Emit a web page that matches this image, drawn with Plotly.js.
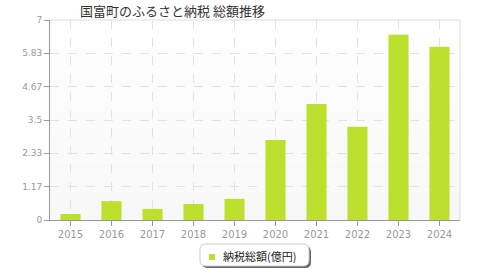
<!DOCTYPE html>
<html>
<head>
<meta charset="utf-8">
<script src="https://cdn.plot.ly/plotly-3.0.1.min.js"></script>
<style>html,body{margin:0;padding:0;background:#fff;}#chart{width:480px;height:280px;}</style>
</head>
<body>
<div id="chart"></div>
<script>
var years = ["2015","2016","2017","2018","2019","2020","2021","2022","2023","2024"];
var totals = [0.21, 0.66, 0.39, 0.56, 0.74, 2.80, 4.06, 3.26, 6.48, 6.06];
var yTickVals = [0, 7/6, 14/6, 3.5, 28/6, 35/6, 7];
var yTickText = ["0", "1.17", "2.33", "3.5", "4.67", "5.83", "7"];
var seriesName = "納税総額(億円)";
var titleText = "国富町のふるさと納税 総額推移";

var font = "'DejaVu Sans', 'Noto Sans CJK JP', sans-serif";
var barColor = "#bde02e";
var trace = {
  type: "bar", x: years, y: totals, name: seriesName,
  marker: {color: barColor, line: {width: 0}},
  width: 0.49, showlegend: false, hoverinfo: "skip"
};
function px2x(p){ return (p - 50) / 410; }
function px2y(p){ return (220 - p) / 200; }
function roundRect(x0, y0, x1, y1, r){
  var X = function(v){return px2x(v).toFixed(5);};
  var Y = function(v){return px2y(v).toFixed(5);};
  return "M" + X(x0+r) + "," + Y(y0) + " L" + X(x1-r) + "," + Y(y0) +
    " Q" + X(x1) + "," + Y(y0) + " " + X(x1) + "," + Y(y0+r) +
    " L" + X(x1) + "," + Y(y1-r) +
    " Q" + X(x1) + "," + Y(y1) + " " + X(x1-r) + "," + Y(y1) +
    " L" + X(x0+r) + "," + Y(y1) +
    " Q" + X(x0) + "," + Y(y1) + " " + X(x0) + "," + Y(y1-r) +
    " L" + X(x0) + "," + Y(y0+r) +
    " Q" + X(x0) + "," + Y(y0) + " " + X(x0+r) + "," + Y(y0) + " Z";
}
var shapes = [];
var bandColors = ["#fefefe","#fdfdfd","#fcfcfc","#fbfbfb","#fafafa","#f9f9f9","#f8f8f8"];
for (var i = 0; i < bandColors.length; i++) {
  shapes.push({type: "rect", xref: "paper", yref: "paper", x0: 0, x1: 1,
    y0: 1 - (i + 1) / bandColors.length, y1: 1 - i / bandColors.length,
    layer: "below", line: {width: 0}, fillcolor: bandColors[i]});
}
shapes.push(
  {type: "line", xref: "paper", yref: "paper", x0: 0, x1: 1, y0: 1, y1: 1,
   line: {color: "#dddddd", width: 1}, layer: "below"},
  {type: "line", xref: "paper", yref: "paper", x0: 1, x1: 1, y0: 0, y1: 1,
   line: {color: "#dddddd", width: 1}, layer: "below"},
  {type: "path", xref: "paper", yref: "paper", layer: "above",
   path: roundRect(202, 246, 311, 268, 6), fillcolor: "#666", line: {width: 0}},
  {type: "path", xref: "paper", yref: "paper", layer: "above",
   path: roundRect(200, 244, 309, 266, 6), fillcolor: "#ffffff", line: {color: "#cccccc", width: 1}},
  {type: "rect", xref: "paper", yref: "paper", layer: "above",
   x0: px2x(209), x1: px2x(215), y0: px2y(254), y1: px2y(260),
   fillcolor: barColor, line: {width: 0}}
);
var layout = {
  width: 480, height: 280,
  margin: {l: 50, r: 20, t: 20, b: 60, autoexpand: false},
  paper_bgcolor: "#ffffff",
  plot_bgcolor: "rgba(0,0,0,0)",
  title: {text: titleText, x: 80/480, xanchor: "left", y: 1 - 11/280, yanchor: "middle",
          font: {family: "'Noto Sans CJK JP', sans-serif", size: 13, color: "#333"}},
  xaxis: {
    type: "category", range: [-0.5, 9.5],
    showgrid: true, gridcolor: "#e2e2e2", griddash: "dash", gridwidth: 1,
    showline: true, linecolor: "#999", linewidth: 1,
    ticks: "outside", ticklen: 5, tickcolor: "#999",
    tickfont: {family: font, size: 10, color: "#999"},
    zeroline: false, fixedrange: true
  },
  yaxis: {
    range: [0, 7], tickvals: yTickVals, ticktext: yTickText,
    showgrid: true, gridcolor: "#e2e2e2", griddash: "dash", gridwidth: 1,
    showline: true, linecolor: "#999", linewidth: 1,
    ticks: "outside", ticklen: 5, tickcolor: "#999",
    tickfont: {family: font, size: 9, color: "#999"},
    zeroline: false, fixedrange: true
  },
  showlegend: false,
  shapes: shapes,
  annotations: [
    {xref: "paper", yref: "paper", x: px2x(221), y: px2y(256), xanchor: "left", yanchor: "middle",
     text: seriesName, showarrow: false,
     font: {family: "'Noto Sans CJK JP', sans-serif", size: 11, color: "#222"}}
  ]
};
Plotly.newPlot("chart", [trace], layout, {displayModeBar: false, staticPlot: true});
</script>
</body>
</html>
